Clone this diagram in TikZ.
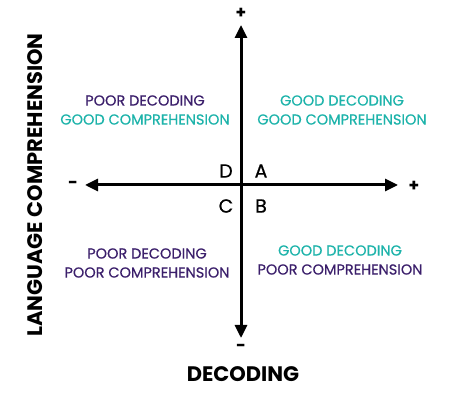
\documentclass[tikz,border=0pt]{standalone}
\usepackage{fontspec}
\setmainfont{Poppins}
\newfontfamily\quadfont{Poppins}[FakeBold=0.6]
\usepackage{tikz}
\usetikzlibrary{positioning,arrows.meta}
\definecolor{poorcol}{HTML}{3B1F6B}
\definecolor{goodcol}{HTML}{1DB3AA}

\begin{document}
\begin{tikzpicture}[
  x=1pt, y=1pt,
  axis/.style={line width=3pt, {Triangle[length=13pt,width=12pt]}-{Triangle[length=13pt,width=12pt]}},
  quad/.style={font=\quadfont\fontsize{14.5}{19}\selectfont, align=center, inner sep=0pt},
  letter/.style={font=\quadfont\fontsize{19}{19}\selectfont, inner sep=0pt},
  sign/.style={font=\fontsize{17}{17}\selectfont\bfseries, inner sep=0pt},
  title/.style={font=\fontsize{21}{21}\selectfont\bfseries, inner sep=0pt}
]
\useasboundingbox (0,0) rectangle (470,401);
\coordinate (top) at (241,376);
\coordinate (bot) at (241,63);
\coordinate (lft) at (85,216);
\coordinate (rgt) at (398,216);
\draw[axis] (bot) -- (top);
\draw[axis] (lft) -- (rgt);
\node[sign] (plustop) at (241,388) {+};
\node[sign] (minusbot) at (241,53) {-};
\node[sign] (minuslft) at (73,216) {-};
\node[sign] (plusrgt) at (414,215) {+};
\node[letter] (d) at (226,230) {D};
\node[letter] (a) at (261,230) {A};
\node[letter] (c) at (226,195) {C};
\node[letter] (b) at (261,195) {B};
\node[quad] (poorgood) at (145,291) {\textcolor{poorcol}{POOR DECODING}\\\textcolor{goodcol}{GOOD COMPREHENSION}};
\node[quad] (goodgood) at (342,291) {\textcolor{goodcol}{GOOD DECODING}\\\textcolor{goodcol}{GOOD COMPREHENSION}};
\node[quad] (poorpoor) at (147,138) {\textcolor{poorcol}{POOR DECODING}\\\textcolor{poorcol}{POOR COMPREHENSION}};
\node[quad] (goodpoor) at (340,141) {\textcolor{goodcol}{GOOD DECODING}\\\textcolor{poorcol}{POOR COMPREHENSION}};
\node[title] (xlabel) at (243,27) {DECODING};
\node[title, rotate=90] (ylabel) at (35,216) {LANGUAGE COMPREHENSION};
\end{tikzpicture}
\end{document}
